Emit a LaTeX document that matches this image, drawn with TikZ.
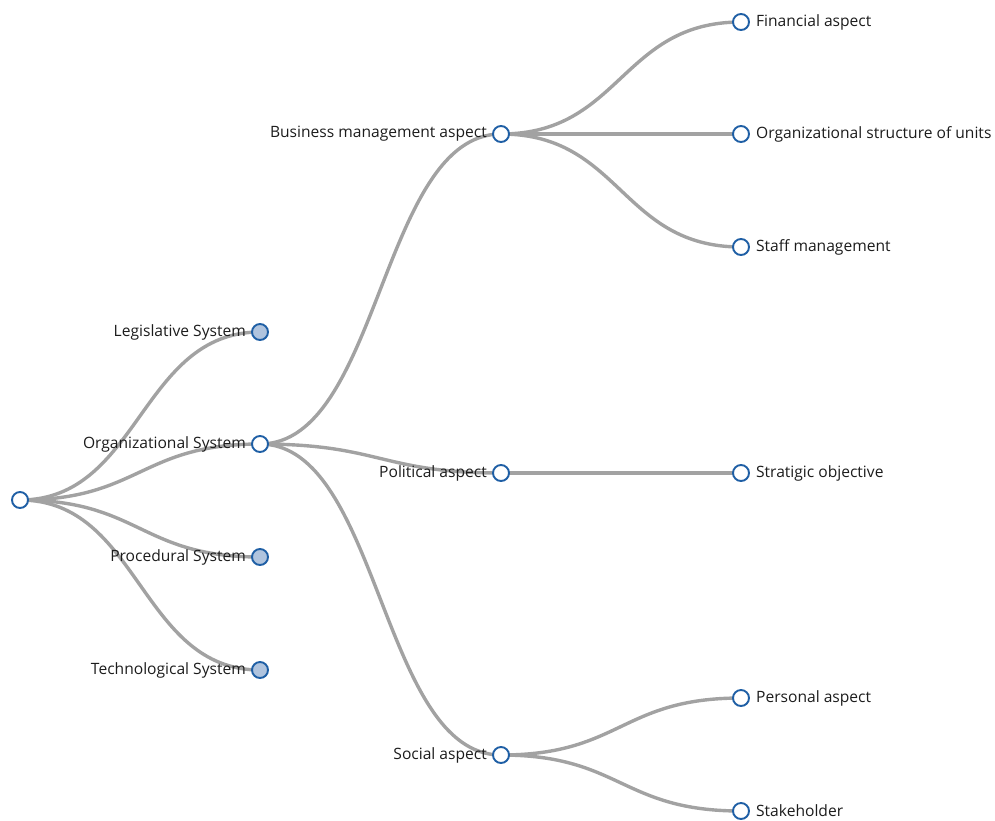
\documentclass[tikz,border=0pt]{standalone}
\usepackage{fontspec}
\setmainfont{Open Sans}
\usetikzlibrary{positioning,backgrounds}
\definecolor{linkgrey}{HTML}{A2A2A2}
\definecolor{nodeblue}{HTML}{1F5FA5}
\definecolor{closedfill}{HTML}{B0C4DE}
\definecolor{labelink}{HTML}{1C1C1C}

\begin{document}
\begin{tikzpicture}[x=1pt, y=-1pt,
  every node/.style={font=\fontsize{15.6}{18}\selectfont, text=labelink},
  open/.style={circle, draw=nodeblue, line width=1.9pt, fill=white, minimum size=16pt, inner sep=0pt},
  closed/.style={open, fill=closedfill},
  leftlab/.style={inner sep=0pt, label distance=5pt},
  rightlab/.style={inner sep=0pt, label distance=6pt},
  link/.style={draw=linkgrey, line width=3.4pt}]
\useasboundingbox (0,0) rectangle (995,820);
% root and first level
\node[open] (root) at (20,500) {};
\node[closed, label={[leftlab]left:Legislative System}] (legis) at (260,332) {};
\node[open, label={[leftlab]left:Organizational System}] (orgsys) at (260,444) {};
\node[closed, label={[leftlab]left:Procedural System}] (proc) at (260,557) {};
\node[closed, label={[leftlab]left:Technological System}] (tech) at (260,670) {};
% second level
\node[open, label={[leftlab]left:Business management aspect}] (business) at (501,134) {};
\node[open, label={[leftlab]left:Political aspect}] (political) at (501,473) {};
\node[open, label={[leftlab]left:Social aspect}] (social) at (501,755) {};
% leaves
\node[open, label={[rightlab]right:Financial aspect}] (financial) at (741,22) {};
\node[open, label={[rightlab]right:Organizational structure of units}] (structure) at (741,134) {};
\node[open, label={[rightlab]right:Staff management}] (staff) at (741,247) {};
\node[open, label={[rightlab]right:Stratigic objective}] (objective) at (741,473) {};
\node[open, label={[rightlab]right:Personal aspect}] (personal) at (741,698) {};
\node[open, label={[rightlab]right:Stakeholder}] (stakeholder) at (741,811) {};
% links
\begin{scope}[on background layer]
\foreach \from/\to in {root/legis, root/orgsys, root/proc, root/tech,
    orgsys/business, orgsys/political, orgsys/social,
    business/financial, business/structure, business/staff,
    political/objective, social/personal, social/stakeholder}
  \draw[link] (\from.center) .. controls +(120,0) and +(-120,0) .. (\to.center);
\end{scope}
\end{tikzpicture}
\end{document}
